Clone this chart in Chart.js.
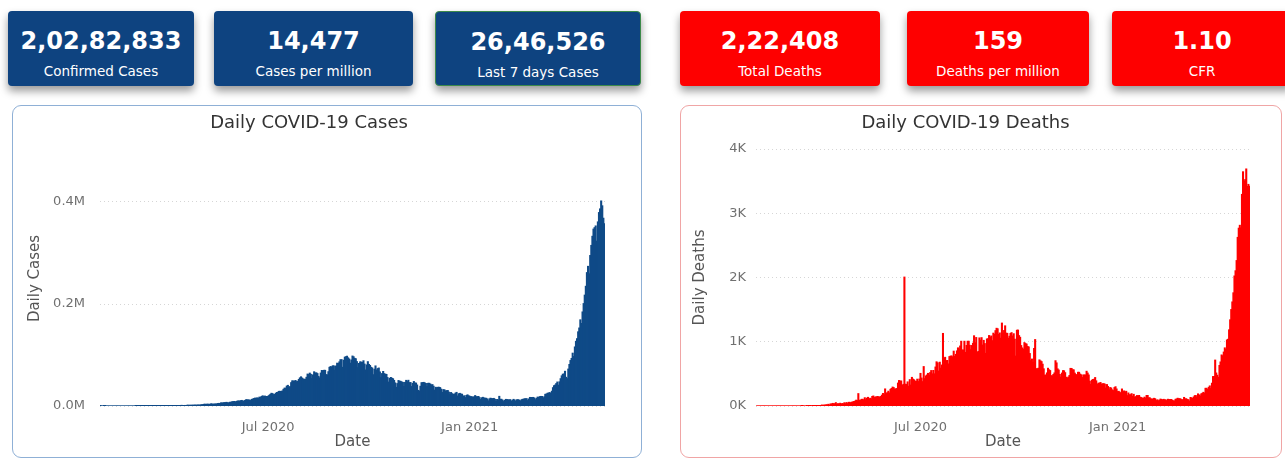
<!DOCTYPE html>
<html>
<head>
<meta charset="utf-8">
<script src="https://cdn.jsdelivr.net/npm/chart.js@4.4.0/dist/chart.umd.min.js"></script>
<style>
  body { margin: 0; width: 1285px; height: 462px; overflow: hidden; background: #fff; position: relative; }
  .card { position: absolute; top: 11px; height: 75px; border-radius: 4px; color: #fff; text-align: center;
          box-sizing: border-box; box-shadow: 0 5px 8px rgba(0, 0, 0, 0.4); font-family: "DejaVu Sans", sans-serif; }
  .card .val { position: absolute; left: 0; right: 0; top: 15px; font-size: 24px; font-weight: bold; line-height: 30px; }
  .card .lbl { position: absolute; left: 0; right: 0; top: 51px; font-size: 13.5px; line-height: 18px; }
  .panel { position: absolute; top: 105px; height: 353px; border-radius: 9px; box-sizing: border-box; background: #fff; }
  .panel canvas { position: absolute; left: 0; top: 0; }
</style>
</head>
<body>

<div class="panel" style="left:12px; width:630px; border:1px solid #8fb0d6;">
  <canvas id="casesChart" width="628" height="351" style="width:628px;height:351px"></canvas>
</div>
<div class="panel" style="left:680px; width:602px; border:1px solid #f0a5a5;">
  <canvas id="deathsChart" width="600" height="351" style="width:600px;height:351px"></canvas>
</div>

<script>
// KPI cards
const kpiValues = ["2,02,82,833", "14,477", "26,46,526", "2,22,408", "159", "1.10"];
const kpiLabels = ["Confirmed Cases", "Cases per million", "Last 7 days Cases", "Total Deaths", "Deaths per million", "CFR"];

// daily series, one value per day starting 30 Jan 2020 (ends 4 May 2021)
const startDay = "2020-01-30";
const dailyCases = [
  1, 0,
  0, 1, 1, 0, 0, 0, 0, 0, 0, 0, 0, 0, 0, 0, 0, 0, 0, 0, 0, 0, 0, 0, 0, 0, 0, 0, 0, 0, 0,
  0, 2, 1, 22, 2, 1, 3, 5, 9, 15, 8, 5, 11, 10, 10, 15, 28, 14, 38, 50, 86, 66, 103, 37, 121, 70, 160, 100, 106, 227, 146,
  601, 545, 478, 580, 562, 489, 573, 565, 813, 871, 854, 758, 1243, 1031, 886, 1061, 922, 1371, 1580, 1239, 1537, 1292, 1667, 1408, 1835, 1607, 1568, 1902, 1705, 1801,
  2396, 2564, 2952, 3656, 2971, 3602, 3344, 3339, 3175, 4311, 3592, 3562, 3726, 3991, 3808, 4794, 5050, 4628, 6147, 5553, 6198, 6568, 6629, 7111, 6414, 5843, 7293, 7300, 8105, 8380, 8789,
  7723, 8812, 9633, 9889, 9471, 10438, 10864, 8442, 9987, 10956, 12375, 11929, 11922, 11502, 10667, 12881, 13586, 14516, 15413, 14933, 15968, 14821, 17296, 16922, 18552, 19906, 18339, 19459, 18522, 18653,
  19148, 20903, 22771, 24850, 24248, 22252, 22752, 24879, 26506, 27114, 28637, 28701, 28498, 29429, 32695, 34956, 34884, 38902, 40425, 37148, 37724, 45720, 49310, 48916, 48661, 49931, 47703, 48513, 52123, 55079, 57118,
  54735, 52972, 52050, 52509, 56282, 62538, 61537, 64399, 62064, 53601, 60963, 66999, 64553, 65002, 63490, 57981, 55079, 64531, 69652, 68898, 69878, 69874, 61408, 60975, 67151, 75760, 77266, 76472, 78761, 78512, 69921,
  78357, 83883, 83341, 86432, 90632, 90802, 75809, 89706, 95735, 96551, 97570, 94372, 92071, 83809, 90123, 97894, 96424, 93337, 92605, 86961, 75083, 83347, 86508, 86052, 85362, 88600, 82170, 70589, 80472, 86821,
  81484, 79476, 75829, 74442, 61267, 72049, 78524, 70496, 73272, 74383, 66732, 55342, 63509, 67708, 63371, 62212, 61871, 55722, 46790, 54044, 55839, 54366, 53370, 50129, 45149, 36470, 43893, 49881, 48648, 48268, 46963,
  46254, 38310, 46253, 50210, 47638, 50357, 45674, 45903, 38074, 44281, 47905, 44879, 44878, 41100, 30548, 29163, 38617, 45576, 45882, 46232, 45209, 44059, 37975, 44376, 44489, 43082, 41322, 41810, 38772, 31118,
  36604, 35551, 36595, 36652, 36011, 32981, 26567, 32080, 31522, 29398, 30006, 30254, 27071, 22065, 26382, 24010, 22889, 22890, 25152, 26624, 19556, 23950, 24712, 23067, 23068, 18732, 20021, 16432, 20550, 21822, 20036,
  19079, 18177, 18088, 16505, 18088, 20346, 18139, 18222, 18645, 16311, 12584, 15968, 16946, 15590, 15158, 15144, 13788, 10064, 13823, 15223, 14545, 14256, 14849, 13203, 9102, 12689, 11666, 18855, 13083, 13052, 11427,
  8635, 11039, 12899, 12408, 12059, 11713, 12408, 9110, 11067, 12923, 11610, 9309, 12143, 12194, 11649, 9121, 11610, 12881, 13193, 13993, 14264, 14199, 10584, 13742, 16738, 16577, 16488, 16752,
  15510, 12286, 14989, 17407, 16838, 18327, 18711, 18599, 15388, 17921, 22854, 23285, 24882, 25320, 26291, 24492, 28903, 35871, 39726, 40953, 43846, 46951, 40715, 47262, 53476, 59118, 62258, 62714, 68020, 56211, 53480,
  72330, 81466, 89129, 93249, 103558, 96982, 115736, 126789, 131968, 145384, 152879, 168912, 161736, 184372, 200739, 217353, 234692, 261500, 273810, 259170, 295041, 314835, 332730, 346786, 349691, 352991, 323144, 360960, 379257, 386452,
  401993, 392488, 368147, 357229
];
const dailyDeaths = [
  0, 0,
  0, 0, 0, 0, 0, 0, 0, 0, 0, 0, 0, 0, 0, 0, 0, 0, 0, 0, 0, 0, 0, 0, 0, 0, 0, 0, 0, 0, 0,
  0, 0, 0, 0, 0, 0, 0, 0, 0, 0, 0, 1, 1, 0, 0, 0, 1, 0, 1, 1, 0, 3, 1, 1, 2, 3, 4, 2, 5, 4, 15,
  7, 15, 11, 19, 16, 26, 13, 31, 30, 40, 35, 34, 51, 26, 36, 27, 42, 29, 38, 34, 50, 36, 53, 37, 57, 56, 48, 60, 62, 69,
  75, 90, 83, 192, 89, 89, 103, 104, 95, 128, 97, 121, 134, 103, 120, 111, 148, 155, 131, 140, 142, 148, 142, 137, 147, 168, 194, 175, 265, 193, 207,
  230, 203, 259, 272, 294, 286, 263, 266, 271, 356, 396, 386, 389, 321, 336, 2006, 339, 334, 375, 307, 410, 325, 445, 418, 407, 388, 381, 417, 380, 418,
  507, 434, 379, 613, 425, 467, 482, 507, 475, 519, 551, 500, 553, 500, 606, 687, 671, 543, 681, 587, 637, 1129, 740, 757, 705, 708, 654, 768, 775, 779, 764,
  853, 771, 803, 857, 904, 886, 933, 1007, 871, 871, 1007, 834, 942, 1007, 1007, 944, 876, 941, 977, 1092, 983, 1065, 836, 848, 1059, 1023, 1063, 948, 1021, 971, 819,
  1043, 1045, 1096, 1065, 1089, 1016, 1133, 1115, 1172, 1209, 1201, 1114, 1136, 1054, 1290, 1132, 1174, 1247, 1133, 1130, 1053, 1085, 1129, 1141, 1089, 1124, 1039, 776, 1179, 1181,
  1095, 1069, 940, 903, 884, 986, 971, 963, 926, 918, 816, 706, 730, 680, 895, 1033, 579, 579, 587, 717, 702, 690, 650, 578, 480, 480, 514, 587, 563, 551, 470,
  470, 490, 514, 704, 670, 577, 559, 490, 448, 512, 550, 547, 518, 447, 435, 449, 474, 585, 584, 564, 562, 511, 489, 480, 524, 524, 496, 485, 443, 482,
  482, 482, 540, 512, 482, 386, 336, 402, 412, 416, 442, 391, 336, 354, 355, 365, 340, 346, 347, 340, 278, 333, 303, 251, 286, 279, 251, 239, 286, 299, 264,
  224, 228, 214, 201, 264, 222, 234, 216, 228, 161, 202, 175, 175, 191, 151, 181, 137, 145, 162, 151, 163, 137, 131, 123, 117, 137, 123, 163, 163, 127, 127,
  110, 107, 107, 119, 112, 84, 96, 81, 91, 107, 101, 95, 103, 95, 94, 78, 104, 97, 101, 101, 90, 80, 78, 104, 108, 120, 113, 113,
  106, 91, 98, 133, 108, 113, 100, 97, 77, 132, 126, 117, 140, 161, 161, 131, 188, 172, 154, 188, 197, 212, 199, 275, 275, 257, 291, 312, 271, 354, 458,
  459, 714, 513, 478, 446, 630, 685, 794, 780, 839, 904, 879, 1027, 1038, 1185, 1341, 1501, 1619, 1761, 2023, 2104, 2263, 2624, 2767, 2812, 2771, 3293, 3645, 3498, 3523,
  3689, 3417, 3449, 3420
];

const xTickDates = ["2020-07-01", "2021-01-01"];
const xTickLabels = ["Jul 2020", "Jan 2021"];
const casesTicks = [0, 200000, 400000];
const deathsTicks = [0, 1000, 2000, 3000, 4000];

// build date labels for the category axis
const dates = dailyCases.map((v, i) => {
  const d = new Date(startDay + "T00:00:00Z");
  d.setUTCDate(d.getUTCDate() + i);
  return d.toISOString().slice(0, 10);
});

// cards
const cardBoxes = [[8, 186], [214, 199], [435, 206], [680, 200], [907, 182], [1112, 180]];
kpiValues.forEach((v, i) => {
  const c = document.createElement("div");
  c.className = "card";
  c.style.left = cardBoxes[i][0] + "px";
  c.style.width = cardBoxes[i][1] + "px";
  c.style.background = i < 3 ? "#0e4380" : "#fe0000";
  if (i == 2) c.style.border = "1px solid #3d8a4a";
  c.innerHTML = '<div class="val">' + v + '</div><div class="lbl">' + kpiLabels[i] + '</div>';
  document.body.appendChild(c);
});

const fontName = "DejaVu Sans";

function makeChart(id, values, color, title, yTitle, yMax, yTicks, fmt, lay) {
  new Chart(document.getElementById(id), {
    type: "bar",
    data: {
      labels: dates,
      datasets: [{
        data: values,
        backgroundColor: color,
        borderWidth: 0,
        inflateAmount: 0.5,
        barPercentage: 1,
        categoryPercentage: 1
      }]
    },
    options: {
      responsive: false,
      animation: false,
      layout: { padding: { left: 0, right: lay.padRight, top: 0, bottom: 0 } },
      plugins: {
        legend: { display: false },
        tooltip: { enabled: false },
        title: {
          display: true, text: title, color: "#333",
          font: { family: fontName, size: 18, weight: "normal" },
          padding: { top: 7, bottom: lay.titleGap }
        }
      },
      scales: {
        x: {
          grid: { display: false },
          border: { display: false },
          ticks: {
            autoSkip: false, maxRotation: 0, minRotation: 0, padding: 6,
            color: "#707070", font: { family: fontName, size: 13 },
            callback: function (val, i) {
              const k = xTickDates.indexOf(dates[i]);
              return k >= 0 ? xTickLabels[k] : "";
            }
          },
          title: { display: true, text: "Date", color: "#555", font: { family: fontName, size: 15 }, padding: { top: 0, bottom: 6 } },
          afterFit: function (s) { s.height = 51; }
        },
        y: {
          min: 0, max: yMax,
          afterBuildTicks: function (s) { s.ticks = yTicks.map(v => ({ value: v })); },
          grid: { drawTicks: false, color: "#d6d6d6", lineWidth: 1 },
          border: { display: false, dash: [1, 3] },
          ticks: { padding: lay.tickPad, color: "#707070", font: { family: fontName, size: 13 }, callback: fmt },
          title: { display: true, text: yTitle, color: "#555", font: { family: fontName, size: 15 }, padding: { top: lay.yTitlePad, bottom: 0 } },
          afterFit: function (s) { s.width = lay.yWidth; }
        }
      }
    }
  });
}

makeChart("casesChart", dailyCases, "#0f4a87", "Daily COVID-19 Cases", "Daily Cases", 500000, casesTicks,
  v => (v / 1000000).toFixed(1) + "M",
  { padRight: 36, titleGap: 16.4, tickPad: 15, yTitlePad: 13, yWidth: 87 });

makeChart("deathsChart", dailyDeaths, "#ff0000", "Daily COVID-19 Deaths", "Daily Deaths", 4000, deathsTicks,
  v => (v / 1000) + "K",
  { padRight: 31, titleGap: 14.4, tickPad: 10, yTitlePad: 10, yWidth: 75 });
</script>
</body>
</html>
